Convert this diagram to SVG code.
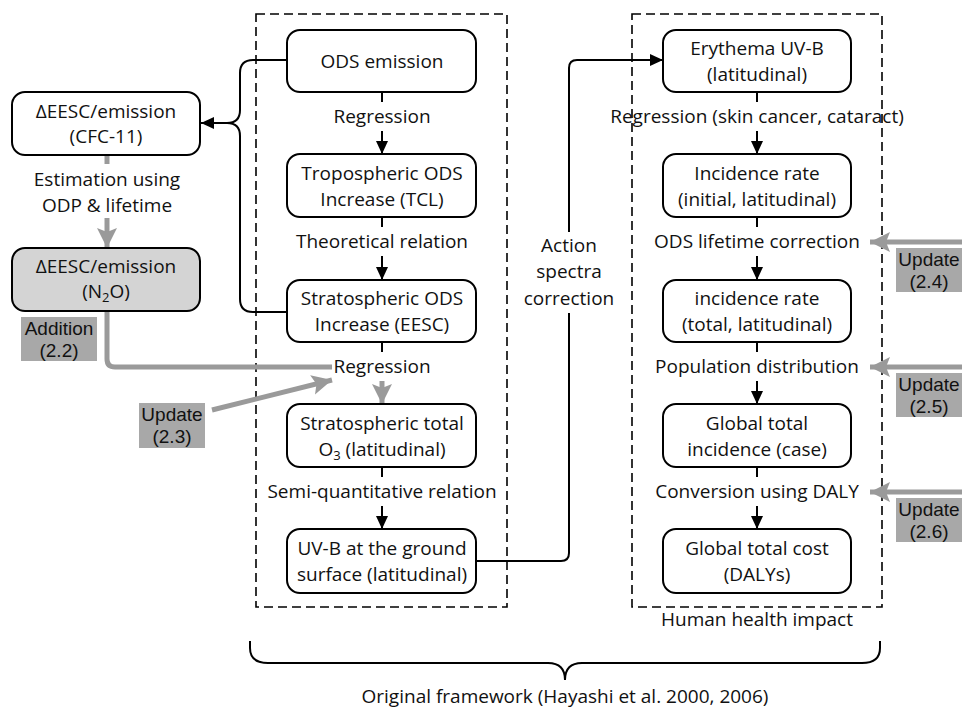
<svg xmlns="http://www.w3.org/2000/svg" width="962" height="710" viewBox="0 0 962 710">
<style>
text{font-family:"Open Sans","Liberation Sans",sans-serif;font-size:19px;fill:#111;text-anchor:middle}
.tt{font-family:"Liberation Sans",Arial,sans-serif;font-size:19px}
.node{fill:#fff;stroke:#000;stroke-width:2}
.gnode{fill:#d4d4d4;stroke:#000;stroke-width:2}
.frame{fill:none;stroke:#000;stroke-width:1.6;stroke-dasharray:9 5}
.ln{fill:none;stroke:#000;stroke-width:2}
.gl{fill:none;stroke:#9a9a9a;stroke-width:5}
.tag{fill:#a8a8a8}
</style>
<defs>
<marker id="ah" markerWidth="14" markerHeight="14" refX="13" refY="7" orient="auto" markerUnits="userSpaceOnUse">
<path d="M0,1 L13,7 L0,13 Z" fill="#000"/>
</marker>
<marker id="gh" markerWidth="22" markerHeight="22" refX="20" refY="11" orient="auto" markerUnits="userSpaceOnUse">
<path d="M0,1 L20,11 L0,21 L4,11 Z" fill="#9a9a9a"/>
</marker>
</defs>

<g id="frames">
<rect class="frame" x="256" y="14" width="251" height="593"/>
<rect class="frame" x="632" y="14" width="250" height="593"/>
</g>

<g id="connectors">
<line class="ln" x1="382" y1="92" x2="382" y2="102"/>
<line class="ln" x1="382" y1="131" x2="382" y2="154" marker-end="url(#ah)"/>
<line class="ln" x1="382" y1="217" x2="382" y2="227"/>
<line class="ln" x1="382" y1="256" x2="382" y2="280" marker-end="url(#ah)"/>
<line class="ln" x1="382" y1="342" x2="382" y2="352"/>
<line class="ln" x1="382" y1="467" x2="382" y2="477"/>
<line class="ln" x1="382" y1="506" x2="382" y2="529" marker-end="url(#ah)"/>
<line class="ln" x1="757" y1="92" x2="757" y2="102"/>
<line class="ln" x1="757" y1="131" x2="757" y2="154" marker-end="url(#ah)"/>
<line class="ln" x1="757" y1="217" x2="757" y2="227"/>
<line class="ln" x1="757" y1="256" x2="757" y2="280" marker-end="url(#ah)"/>
<line class="ln" x1="757" y1="342" x2="757" y2="352"/>
<line class="ln" x1="757" y1="381" x2="757" y2="404" marker-end="url(#ah)"/>
<line class="ln" x1="757" y1="467" x2="757" y2="477"/>
<line class="ln" x1="757" y1="506" x2="757" y2="529" marker-end="url(#ah)"/>
<path class="ln" d="M287,60 H253 Q240,60 240,73 V110 Q240,123 227,123 H201" marker-end="url(#ah)"/>
<path class="ln" d="M287,312 H253 Q240,312 240,299 V136 Q240,123 227,123"/>
<path class="ln" d="M476,561 H561 Q569,561 569,553 V313"/>
<path class="ln" d="M569,232 V68 Q569,60 577,60 H663" marker-end="url(#ah)"/>
<line class="gl" x1="107" y1="155" x2="107" y2="164"/>
<line class="gl" x1="107" y1="218" x2="107" y2="248" marker-end="url(#gh)"/>
<path class="gl" d="M107,311 V359 Q107,367 115,367 H332"/>
<line class="gl" x1="382" y1="381" x2="382" y2="404" marker-end="url(#gh)"/>
<line class="gl" x1="212" y1="410" x2="332" y2="380" marker-end="url(#gh)"/>
<line class="gl" x1="962" y1="242" x2="870" y2="242" marker-end="url(#gh)"/>
<line class="gl" x1="962" y1="367" x2="870" y2="367" marker-end="url(#gh)"/>
<line class="gl" x1="962" y1="492" x2="870" y2="492" marker-end="url(#gh)"/>
<path class="ln" d="M250,641 V648 Q250,663 268,663 H548 Q565,663 565,680 Q565,663 582,663 H862 Q880,663 880,648 V641"/>
</g>

<g id="labels">
<text x="382" y="123">Regression</text>
<text x="382" y="248">Theoretical relation</text>
<text x="382" y="373">Regression</text>
<text x="382" y="498">Semi-quantitative relation</text>
<text x="757" y="123">Regression (skin cancer, cataract)</text>
<text x="757" y="248">ODS lifetime correction</text>
<text x="757" y="373">Population distribution</text>
<text x="757" y="498">Conversion using DALY</text>
<text x="107" y="186">Estimation using</text>
<text x="107" y="212">ODP &amp; lifetime</text>
<text x="569" y="252">Action</text>
<text x="569" y="278">spectra</text>
<text x="569" y="305">correction</text>
<text x="757" y="626">Human health impact</text>
<text x="565" y="703">Original framework (Hayashi et al. 2000, 2006)</text>
</g>

<g id="ods-emission"><rect class="node" x="287" y="30" width="189" height="62" rx="13"/><text x="382" y="68">ODS emission</text></g>
<g id="tropo"><rect class="node" x="287" y="154" width="189" height="63" rx="13"/><text x="382" y="180">Tropospheric ODS</text><text x="382" y="206">Increase (TCL)</text></g>
<g id="strato"><rect class="node" x="287" y="280" width="189" height="62" rx="13"/><text x="382" y="305">Stratospheric ODS</text><text x="382" y="331">Increase (EESC)</text></g>
<g id="o3"><rect class="node" x="287" y="404" width="189" height="63" rx="13"/><text x="382" y="430">Stratospheric total</text><text x="382" y="456">O<tspan font-size="13" dy="4">3</tspan><tspan dy="-4"> (latitudinal)</tspan></text></g>
<g id="uvb"><rect class="node" x="287" y="529" width="189" height="64" rx="13"/><text x="382" y="555">UV-B at the ground</text><text x="382" y="581">surface (latitudinal)</text></g>

<g id="erythema"><rect class="node" x="663" y="30" width="188" height="62" rx="13"/><text x="757" y="55">Erythema UV-B</text><text x="757" y="81">(latitudinal)</text></g>
<g id="inc-initial"><rect class="node" x="663" y="154" width="188" height="63" rx="13"/><text x="757" y="180">Incidence rate</text><text x="757" y="206">(initial, latitudinal)</text></g>
<g id="inc-total"><rect class="node" x="663" y="280" width="188" height="62" rx="13"/><text x="757" y="305">incidence rate</text><text x="757" y="331">(total, latitudinal)</text></g>
<g id="global-inc"><rect class="node" x="663" y="404" width="188" height="63" rx="13"/><text x="757" y="430">Global total</text><text x="757" y="456">incidence (case)</text></g>
<g id="global-cost"><rect class="node" x="663" y="529" width="188" height="64" rx="13"/><text x="757" y="555">Global total cost</text><text x="757" y="581">(DALYs)</text></g>

<g id="cfc11"><rect class="node" x="12" y="92" width="188" height="63" rx="13"/><text x="106" y="118">ΔEESC/emission</text><text x="106" y="143">(CFC-11)</text></g>
<g id="n2o"><rect class="gnode" x="12" y="248" width="188" height="63" rx="13"/><text x="106" y="273">ΔEESC/emission</text><text x="106" y="298">(N<tspan font-size="13" dy="4">2</tspan><tspan dy="-4">O)</tspan></text></g>

<g id="tag-22"><rect class="tag" x="21" y="317" width="76" height="44"/><text class="tt" x="59" y="335">Addition</text><text class="tt" x="59" y="357">(2.2)</text></g>
<g id="tag-23"><rect class="tag" x="139" y="403" width="66" height="45"/><text class="tt" x="172" y="421">Update</text><text class="tt" x="172" y="443">(2.3)</text></g>
<g id="tag-24"><rect class="tag" x="896" y="248" width="70" height="44"/><text class="tt" x="929" y="266">Update</text><text class="tt" x="929" y="288">(2.4)</text></g>
<g id="tag-25"><rect class="tag" x="896" y="373" width="70" height="44"/><text class="tt" x="929" y="391">Update</text><text class="tt" x="929" y="413">(2.5)</text></g>
<g id="tag-26"><rect class="tag" x="896" y="498" width="70" height="44"/><text class="tt" x="929" y="516">Update</text><text class="tt" x="929" y="538">(2.6)</text></g>
</svg>
